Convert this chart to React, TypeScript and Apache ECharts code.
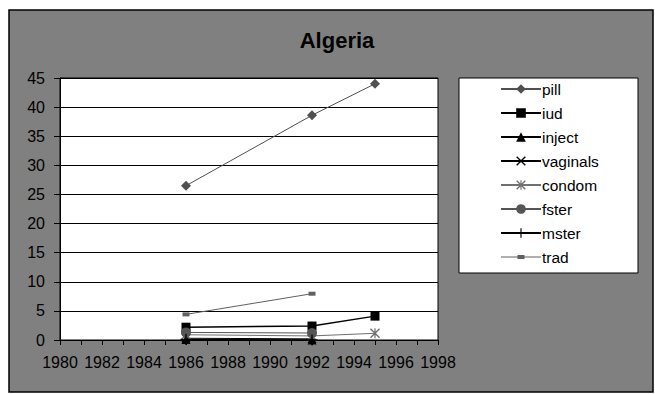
import React, { useEffect, useRef } from "react";
import * as echarts from "echarts";

const seriesNames = ["pill", "iud", "inject", "vaginals", "condom", "fster", "mster", "trad"];
const pillData = [[1986, 26.5], [1992, 38.6], [1995, 44.0]];
const iudData = [[1986, 2.2], [1992, 2.4], [1995, 4.1]];
const injectData = [[1986, 0.1], [1992, 0.0]];
const vaginalsData = [[1986, 0.3], [1992, 0.2]];
const condomData = [[1986, 0.9], [1992, 0.7], [1995, 1.15]];
const fsterData = [[1986, 1.3], [1992, 1.2]];
const msterData = [[1986, 0.1], [1992, 0.0]];
const tradData = [[1986, 4.4], [1992, 7.95]];
const xMin = 1980;
const xMax = 1998;
const yMax = 45;

const X_PATH = "path://M0,1 L1,0 L5,4 L9,0 L10,1 L6,5 L10,9 L9,10 L5,6 L1,10 L0,9 L4,5 Z";
const PLUS_PATH = "path://M4.4,0 H5.6 V4.4 H10 V5.6 H5.6 V10 H4.4 V5.6 H0 V4.4 H4.4 Z";
const AST_PATH = "path://M0,1 L1,0 L5,4 L9,0 L10,1 L6,5 L10,9 L9,10 L5,6 L1,10 L0,9 L4,5 Z M4.4,0 H5.6 V10 H4.4 Z";
const TRAD_ICON = "path://M0,5.5 H40 V6.5 H0 Z M16.5,4 H23.5 V8 H16.5 Z M0,0 H0.01 V12 H0 Z";

const FONT = "Liberation Sans, Arial, sans-serif";

export default function App() {
  const ref = useRef<HTMLDivElement>(null);
  useEffect(() => {
    const chart = echarts.init(ref.current!, null, { renderer: "svg" });
    const mk = (name: string, data: number[][], color: string, symbol: string, size: any, lw = 1) => ({
      name,
      type: "line",
      data,
      symbol,
      symbolSize: size,
      showSymbol: true,
      lineStyle: { color, width: lw },
      itemStyle: { color, borderWidth: 0 },
      emphasis: { disabled: true },
      z: 3,
    });
    const series = [
      mk(seriesNames[0], pillData, "#505050", "diamond", 10),
      mk(seriesNames[1], iudData, "#000000", "rect", 9, 1.5),
      mk(seriesNames[2], injectData, "#000000", "triangle", 9),
      mk(seriesNames[3], vaginalsData, "#000000", X_PATH, 9),
      mk(seriesNames[4], condomData, "#707070", AST_PATH, 10),
      mk(seriesNames[5], fsterData, "#555555", "circle", 10),
      mk(seriesNames[6], msterData, "#000000", PLUS_PATH, 11),
      mk(seriesNames[7], tradData, "#606060", "rect", [7, 4]),
    ];
    const legendData = seriesNames.map((n) =>
      n === "trad" ? { name: n, icon: TRAD_ICON } : { name: n }
    );
    chart.setOption({
      animation: false,
      textStyle: { fontFamily: FONT },
      graphic: [
        {
          type: "rect",
          z: -10,
          silent: true,
          shape: { x: 9, y: 10, width: 644, height: 382 },
          style: { fill: "#808080", stroke: "#000", lineWidth: 1.5 },
        },
        {
          type: "rect",
          z: -5,
          silent: true,
          shape: { x: 459, y: 78, width: 179, height: 195 },
          style: { fill: "#fff", stroke: "#000", lineWidth: 1 },
        },
      ],
      title: {
        text: "Algeria",
        left: 332,
        top: 24,
        textAlign: "center",
        textStyle: { fontFamily: FONT, fontSize: 22, fontWeight: "bold", color: "#000" },
      },
      legend: {
        orient: "vertical",
        left: 495,
        top: 76,
        itemWidth: 40,
        itemHeight: 12,
        itemGap: 8.0,
        data: legendData,
        textStyle: { fontFamily: FONT, fontSize: 15.5, color: "#000", padding: [0, 0, 0, -4] },
        selectedMode: false,
        z: 10,
      },
      grid: {
        left: 60,
        right: 217,
        top: 78,
        bottom: 54,
        show: true,
        backgroundColor: "#fff",
        borderColor: "#000",
        borderWidth: 1,
      },
      xAxis: {
        type: "value",
        min: xMin,
        max: xMax,
        interval: 2,
        axisLine: { show: true, lineStyle: { color: "#000", width: 1 } },
        axisTick: { show: true, inside: false, length: 5, lineStyle: { color: "#000" } },
        minorTick: { show: true, splitNumber: 2, length: 5, lineStyle: { color: "#000" } },
        splitLine: { show: false },
        axisLabel: {
          color: "#000",
          fontFamily: FONT,
          fontSize: 16,
          margin: 14,
          showMinLabel: true,
          showMaxLabel: true,
          formatter: (v: number) => String(v),
        },
      },
      yAxis: {
        type: "value",
        min: 0,
        max: yMax,
        interval: 5,
        axisLine: { show: true, lineStyle: { color: "#000", width: 1 } },
        axisTick: { show: true, inside: false, length: 6, lineStyle: { color: "#000" } },
        splitLine: { show: true, lineStyle: { color: "#000", width: 1 } },
        axisLabel: { color: "#000", fontFamily: FONT, fontSize: 16, margin: 15 },
      },
      series,
    });
    return () => chart.dispose();
  }, []);
  return (
    <div
      ref={ref}
      style={{ position: "fixed", left: 0, top: 0, width: 655, height: 394, background: "#fff" }}
    />
  );
}
